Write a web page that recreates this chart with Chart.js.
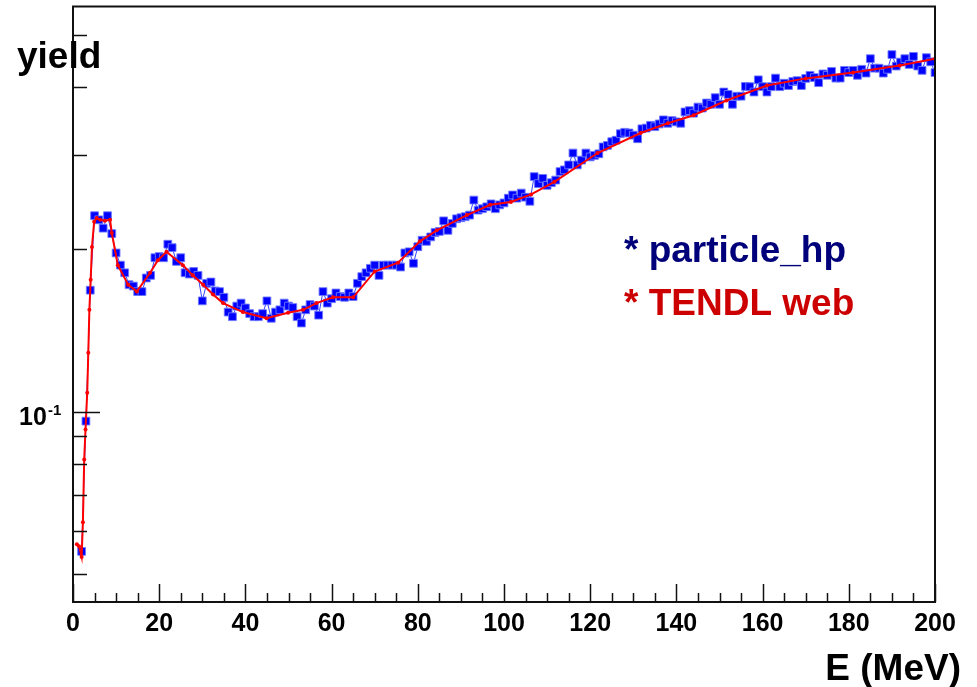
<!DOCTYPE html>
<html>
<head>
<meta charset="utf-8">
<title>yield vs E</title>
<script src="https://cdn.jsdelivr.net/npm/chart.js@4.4.1/dist/chart.umd.min.js"></script>
<style>
  html, body { margin: 0; padding: 0; background: #fff; }
  #wrap { width: 977px; height: 687px; }
</style>
</head>
<body>
<div id="wrap"><canvas id="yieldChart" width="977" height="687"></canvas></div>
<script>
// particle_hp histogram: 1 MeV bins
const hpEnergy = [
  2, 3, 4, 5, 6, 7, 8, 9,
  10, 11, 12, 13, 14, 15, 16, 17, 18, 19,
  20, 21, 22, 23, 24, 25, 26, 27, 28, 29,
  30, 31, 32, 33, 34, 35, 36, 37, 38, 39,
  40, 41, 42, 43, 44, 45, 46, 47, 48, 49,
  50, 51, 52, 53, 54, 55, 56, 57, 58, 59,
  60, 61, 62, 63, 64, 65, 66, 67, 68, 69,
  70, 71, 72, 73, 74, 75, 76, 77, 78, 79,
  80, 81, 82, 83, 84, 85, 86, 87, 88, 89,
  90, 91, 92, 93, 94, 95, 96, 97, 98, 99,
  100, 101, 102, 103, 104, 105, 106, 107, 108, 109,
  110, 111, 112, 113, 114, 115, 116, 117, 118, 119,
  120, 121, 122, 123, 124, 125, 126, 127, 128, 129,
  130, 131, 132, 133, 134, 135, 136, 137, 138, 139,
  140, 141, 142, 143, 144, 145, 146, 147, 148, 149,
  150, 151, 152, 153, 154, 155, 156, 157, 158, 159,
  160, 161, 162, 163, 164, 165, 166, 167, 168, 169,
  170, 171, 172, 173, 174, 175, 176, 177, 178, 179,
  180, 181, 182, 183, 184, 185, 186, 187, 188, 189,
  190, 191, 192, 193, 194, 195, 196, 197, 198, 199,
  200
];
const hpYield = [
  0.055, 0.096, 0.168, 0.231, 0.227, 0.219, 0.231, 0.214,
  0.197, 0.187, 0.181, 0.172, 0.171, 0.167, 0.167, 0.177, 0.179, 0.193,
  0.194, 0.193, 0.2045, 0.2015, 0.190, 0.193, 0.181, 0.180, 0.182, 0.179,
  0.1605, 0.173, 0.174, 0.1675, 0.167, 0.163, 0.153, 0.150, 0.157, 0.159,
  0.1557, 0.152, 0.150, 0.150, 0.152, 0.1605, 0.149, 0.153, 0.1545, 0.159,
  0.157, 0.156, 0.150, 0.146, 0.1545, 0.158, 0.157, 0.151, 0.167, 0.159,
  0.162, 0.166, 0.1635, 0.163, 0.166, 0.1635, 0.173, 0.178, 0.181, 0.1845,
  0.187, 0.179, 0.187, 0.187, 0.187, 0.187, 0.1855, 0.197, 0.198, 0.1885,
  0.2023, 0.208, 0.207, 0.211, 0.215, 0.216, 0.226, 0.217, 0.2235, 0.228,
  0.229, 0.230, 0.2316, 0.247, 0.2366, 0.238, 0.240, 0.243, 0.238, 0.242,
  0.244, 0.249, 0.2524, 0.249, 0.2545, 0.250, 0.2457, 0.273, 0.265, 0.271,
  0.263, 0.266, 0.269, 0.279, 0.281, 0.287, 0.302, 0.287, 0.293, 0.302,
  0.297, 0.299, 0.301, 0.310, 0.312, 0.317, 0.319, 0.328, 0.330, 0.329,
  0.326, 0.321, 0.335, 0.336, 0.340, 0.338, 0.342, 0.348, 0.343, 0.347,
  0.345, 0.343, 0.360, 0.362, 0.358, 0.3676, 0.366, 0.374, 0.372, 0.3826,
  0.372, 0.392, 0.388, 0.372, 0.385, 0.385, 0.4015, 0.401, 0.392, 0.413,
  0.401, 0.392, 0.401, 0.416, 0.401, 0.407, 0.403, 0.410, 0.4115, 0.403,
  0.4155, 0.421, 0.417, 0.408, 0.4235, 0.421, 0.428, 0.416, 0.416, 0.430,
  0.426, 0.430, 0.421, 0.432, 0.425, 0.452, 0.434, 0.434, 0.425, 0.432,
  0.460, 0.438, 0.4455, 0.452, 0.441, 0.4565, 0.438, 0.430, 0.454, 0.446,
  0.426
];

// TENDL web curve
const tendlEnergy = [
  0.9, 1.4, 2.0, 2.3, 2.6, 2.9, 3.3, 3.55, 3.8, 4.1,
  4.4, 4.9, 5.5, 6.3, 7.4, 8.6, 9.0, 10.4, 12.8, 14.8,
  17.9, 19.7, 21.7, 25.5, 27.8, 30.2, 32.5, 34.8, 39.4, 44.9,
  49.9, 53.4, 56.5, 60.3, 65.0, 70.0, 75.4, 80.5, 84.4, 91.4,
  96.8, 101.6, 106.3, 111.7, 121.7, 131.7, 138.0, 144.0, 151.6, 161.0,
  170.0, 181.0, 191.8, 200.0
];
const tendlYield = [
  0.0567, 0.0562, 0.0537, 0.0623, 0.0815, 0.0926, 0.1084, 0.1286, 0.1545, 0.1756,
  0.202, 0.225, 0.2287, 0.227, 0.226, 0.227, 0.2145, 0.187, 0.172, 0.167,
  0.181, 0.191, 0.198, 0.187, 0.179, 0.172, 0.165, 0.159, 0.153, 0.149,
  0.1525, 0.1545, 0.159, 0.163, 0.163, 0.182, 0.189, 0.207, 0.217, 0.2316,
  0.242, 0.245, 0.253, 0.267, 0.302, 0.329, 0.343, 0.355, 0.378, 0.403,
  0.4155, 0.426, 0.439, 0.452
];

// Axis ranges and tick labels
const xMin = 0, xMax = 200;
const yMin = 0.0443, yMax = 0.565;
const xTickLabels = [0, 20, 40, 60, 80, 100, 120, 140, 160, 180, 200];
const yMinorTicks = [0.05, 0.06, 0.07, 0.08, 0.09, 0.2, 0.3, 0.4, 0.5];
const yMajorTicks = [0.1];

const FONT = '"Liberation Sans", Arial, Helvetica, sans-serif';

// Draws the ROOT-style frame, inward ticks, labels and the text legend
const rootFrame = {
  id: 'rootFrame',
  afterDraw(chart) {
    const ctx = chart.ctx;
    const area = chart.chartArea;
    const xs = chart.scales.x;
    const ys = chart.scales.y;

    ctx.save();
    ctx.strokeStyle = '#111';
    ctx.lineWidth = 2;
    ctx.strokeRect(area.left, area.top, area.right - area.left, area.bottom - area.top);

    // x ticks (major every 20, minor every 5)
    ctx.beginPath();
    for (let v = xMin; v <= xMax; v += 5) {
      const px = Math.round(xs.getPixelForValue(v)) + 0.5;
      const len = (v % 20 === 0) ? 18 : 9;
      ctx.moveTo(px, area.bottom);
      ctx.lineTo(px, area.bottom - len);
    }
    // y ticks
    yMinorTicks.forEach(v => {
      const py = Math.round(ys.getPixelForValue(v)) + 0.5;
      ctx.moveTo(area.left, py);
      ctx.lineTo(area.left + 14, py);
    });
    yMajorTicks.forEach(v => {
      const py = Math.round(ys.getPixelForValue(v)) + 0.5;
      ctx.moveTo(area.left, py);
      ctx.lineTo(area.left + 27, py);
    });
    ctx.lineWidth = 1.5;
    ctx.stroke();

    // x tick labels
    ctx.fillStyle = '#000';
    ctx.font = 'bold 25px ' + FONT;
    ctx.textAlign = 'center';
    ctx.textBaseline = 'alphabetic';
    xTickLabels.forEach(v => {
      ctx.fillText(String(v), xs.getPixelForValue(v), 631);
    });

    // y label 10^-1
    const y01 = ys.getPixelForValue(0.1);
    ctx.textAlign = 'left';
    ctx.font = 'bold 25px ' + FONT;
    ctx.fillText('10', 19, y01 + 13);
    ctx.font = 'bold 15px ' + FONT;
    ctx.fillText('-1', 48, y01 + 3);

    // axis titles
    ctx.font = 'bold 37px ' + FONT;
    ctx.textAlign = 'left';
    ctx.fillText('yield', 17, 68);
    ctx.textAlign = 'right';
    ctx.fillText('E (MeV)', 961, 680);

    // legend text
    ctx.textAlign = 'left';
    ctx.font = 'bold 37px ' + FONT;
    ctx.fillStyle = '#00007a';
    ctx.fillText('* particle_hp', 624, 262);
    ctx.fillStyle = '#cc0000';
    ctx.fillText('* TENDL web', 624, 315);
    ctx.restore();
  }
};

function initializeChart() {
  const ctx = document.getElementById('yieldChart');
  if (!ctx || typeof Chart === 'undefined') return;

  const hpPoints = hpEnergy.map((e, i) => ({ x: e, y: hpYield[i] }));
  const tendlPoints = tendlEnergy.map((e, i) => ({ x: e, y: tendlYield[i] }));

  new Chart(ctx, {
    type: 'line',
    data: {
      datasets: [
        {
          label: 'particle_hp',
          data: hpPoints,
          borderColor: '#3344ff',
          borderWidth: 1,
          backgroundColor: '#0000ff',
          pointStyle: 'rect',
          pointRadius: 5.5,
          pointBorderWidth: 1,
          pointBorderColor: 'rgba(110,120,255,0.9)',
          pointBackgroundColor: '#0000ff',
          tension: 0,
          order: 2
        },
        {
          label: 'TENDL web',
          data: tendlPoints,
          borderColor: '#ff0000',
          borderWidth: 2,
          pointStyle: 'circle',
          pointRadius: 2,
          pointBorderWidth: 0,
          pointBackgroundColor: '#ff0000',
          tension: 0,
          order: 1
        }
      ]
    },
    options: {
      responsive: false,
      animation: false,
      layout: {
        padding: { left: 73, right: 42, top: 6, bottom: 85 }
      },
      plugins: {
        legend: { display: false },
        tooltip: { enabled: false }
      },
      scales: {
        x: { type: 'linear', min: xMin, max: xMax, display: false },
        y: { type: 'logarithmic', min: yMin, max: yMax, display: false }
      }
    },
    plugins: [rootFrame]
  });
}

document.addEventListener('DOMContentLoaded', function() {
  initializeChart();
});
</script>
</body>
</html>
